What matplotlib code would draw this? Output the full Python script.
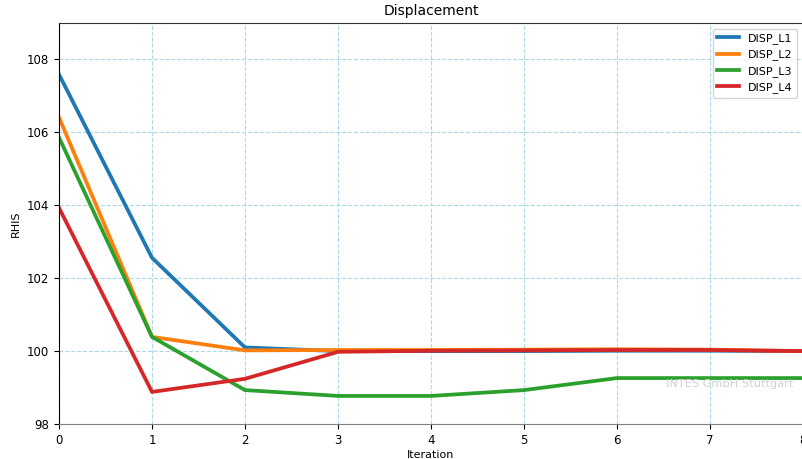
import matplotlib
matplotlib.use('Agg')
import matplotlib.pyplot as plt

iterations = [0, 1, 2, 3, 4, 5, 6, 7, 8]
disp_l1 = [107.59, 102.56, 100.10, 100.00, 100.00, 100.00, 100.01, 100.01, 100.00]
disp_l2 = [106.41, 100.39, 100.02, 100.03, 100.03, 100.04, 100.05, 100.04, 100.00]
disp_l3 = [105.86, 100.39, 98.93, 98.77, 98.77, 98.93, 99.26, 99.26, 99.26]
disp_l4 = [103.93, 98.88, 99.24, 99.98, 100.01, 100.02, 100.03, 100.03, 100.00]
labels = ['DISP_L1', 'DISP_L2', 'DISP_L3', 'DISP_L4']
colors = ['#1f77b4', '#ff7f0e', '#2ca02c', '#d62728']

fig = plt.figure(figsize=(8.03, 4.59), dpi=100)
ax = fig.add_axes([59 / 803, 35 / 459, 744 / 803, 401 / 459])

for ys, lab, c in zip([disp_l1, disp_l2, disp_l3, disp_l4], labels, colors):
    ax.plot(iterations, ys, color=c, linewidth=2.7, label=lab)

ax.set_xlim(0, 8)
ax.set_ylim(98, 109)
ax.set_yticks([98, 100, 102, 104, 106, 108])
ax.set_xticks(iterations)
ax.grid(True, color='lightblue', linestyle='--', linewidth=0.8)
ax.set_title('Displacement', fontsize=10)
ax.set_xlabel('Iteration', fontsize=8, labelpad=2)
ax.set_ylabel('RHIS', fontsize=8)
ax.tick_params(labelsize=8.5)
ax.spines['left'].set_color('black')
ax.spines['bottom'].set_color('gray')
ax.spines['top'].set_color('#333333')
# faint company watermark, bottom right
ax.text(0.987, 0.10, 'INTES GmbH Stuttgart', transform=ax.transAxes,
        ha='right', va='center', color='#d0d0d0', fontsize=8.2)
ax.legend(loc='upper right', fontsize=8)

plt.savefig('out.png', dpi=100)
